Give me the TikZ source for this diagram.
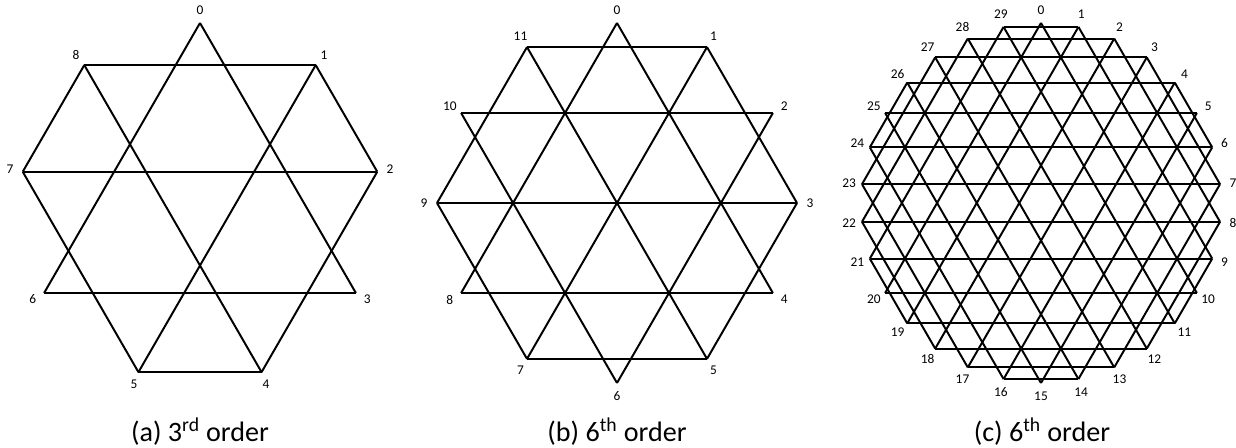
\documentclass[tikz,border=0pt]{standalone}
\usepackage{fontspec}
\setmainfont{Carlito}

\begin{document}
\begin{tikzpicture}[x=0.25mm, y=0.25mm, line width=1.4pt,
    vlabel/.style={font=\fontsize{9.5}{10}\selectfont, inner sep=0pt},
    caption/.style={font=\fontsize{20}{22}\selectfont, anchor=base},
    chord/.style={draw, line width=1.4pt}]

    \useasboundingbox (0,0) rectangle (1236,448);

    % (a) 9 points, chords with i+j = 0 mod 3
    \begin{scope}[shift={(200,245)}]
        \foreach \k in {0,...,8} {
            \coordinate (a\k) at ({90-40*\k}:180);
            \node [vlabel] (la\k) at ({90-40*\k}:193) {\k};
        }
        \foreach \i in {0,...,8} {
            \foreach \j in {\i,...,8} {
                \pgfmathtruncatemacro{\s}{mod(\i+\j,3)}
                \ifnum\s=0 \ifnum\i<\j \path [chord] (a\i) -- (a\j); \fi\fi
            }
        }
    \end{scope}

    % (b) 12 points, chords with i+j = 0 mod 4
    \begin{scope}[shift={(617,245)}]
        \foreach \k in {0,...,11} {
            \coordinate (b\k) at ({90-30*\k}:180);
            \node [vlabel] (lb\k) at ({90-30*\k}:193) {\k};
        }
        \foreach \i in {0,...,11} {
            \foreach \j in {\i,...,11} {
                \pgfmathtruncatemacro{\s}{mod(\i+\j,4)}
                \ifnum\s=0 \ifnum\i<\j \path [chord] (b\i) -- (b\j); \fi\fi
            }
        }
    \end{scope}

    % (c) 30 points, chords with i+j = 0 mod 10
    \begin{scope}[shift={(1041,245)}]
        \foreach \k in {0,...,29} {
            \coordinate (c\k) at ({90-12*\k}:180);
            \node [vlabel] (lc\k) at ({90-12*\k}:193) {\k};
        }
        \foreach \i in {0,...,29} {
            \foreach \j in {\i,...,29} {
                \pgfmathtruncatemacro{\s}{mod(\i+\j,10)}
                \ifnum\s=0 \ifnum\i<\j \path [chord] (c\i) -- (c\j); \fi\fi
            }
        }
    \end{scope}

    % Captions
    \node [caption] (capa) at (200,6) {(a) 3\textsuperscript{rd} order};
    \node [caption] (capb) at (617,6) {(b) 6\textsuperscript{th} order};
    \node [caption] (capc) at (1042,6) {(c) 6\textsuperscript{th} order};

\end{tikzpicture}
\end{document}
